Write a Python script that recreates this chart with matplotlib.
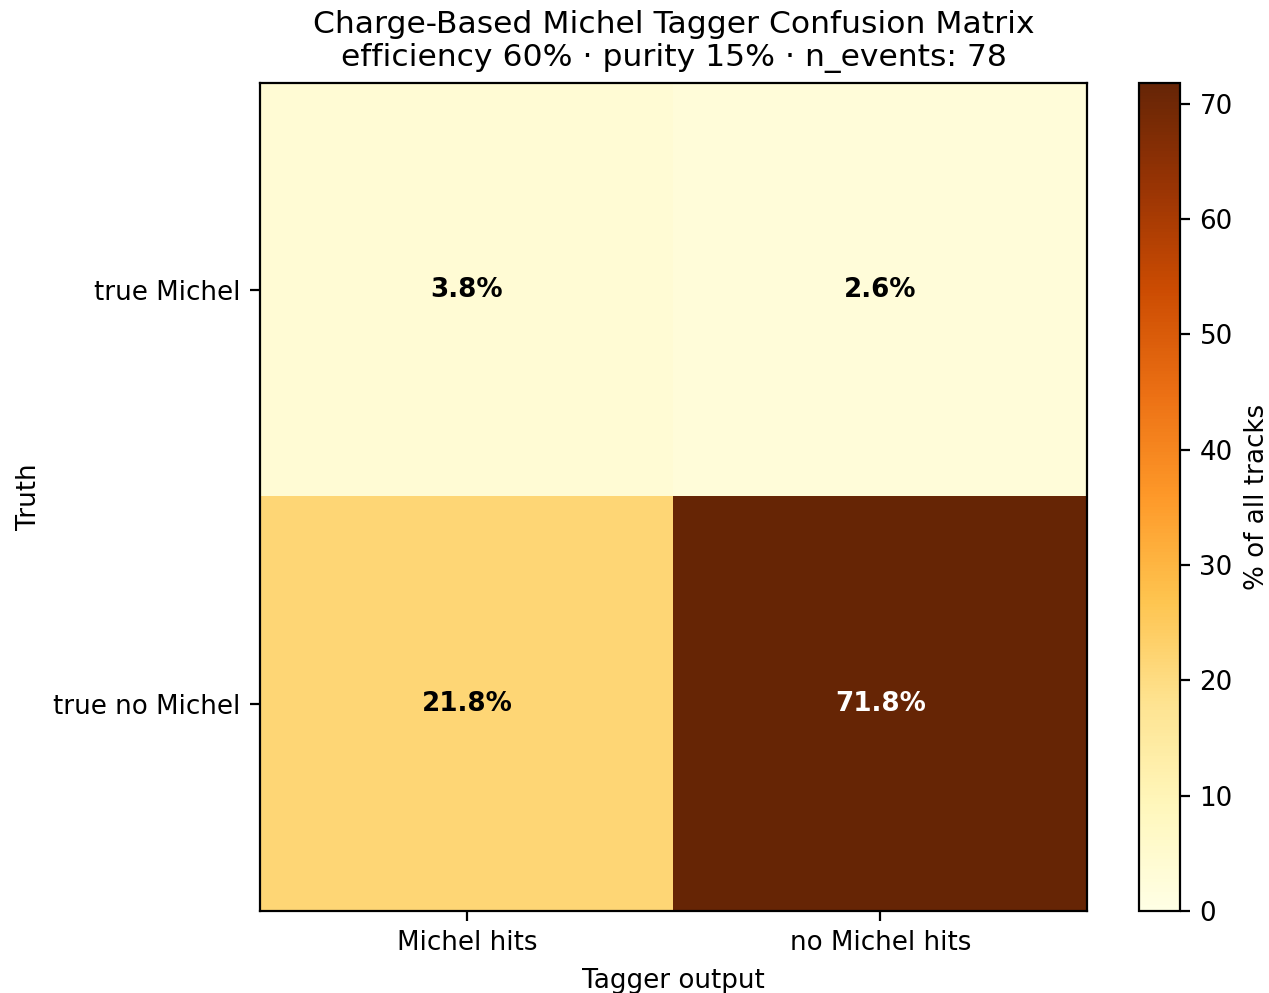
import numpy as np
import matplotlib
matplotlib.use("Agg")
import matplotlib.pyplot as plt

row_labels = ["true Michel", "true no Michel"]
col_labels = ["Michel hits", "no Michel hits"]
pct = np.array([[3.8, 2.6],
                [21.8, 71.8]])
efficiency = 60
purity = 15
n_events = 78

plt.rcParams["font.size"] = 9.4

fig = plt.figure(figsize=(6.345, 4.965), dpi=200)
ax = fig.add_axes([0.205, 0.0826, 0.6516, 0.8338])
cax = fig.add_axes([0.8976, 0.0826, 0.0323, 0.8338])

im = ax.imshow(pct, cmap="YlOrBr", vmin=0, vmax=pct.max(), aspect="auto")
ax.set_xticks(range(len(col_labels)))
ax.set_xticklabels(col_labels)
ax.set_yticks(range(len(row_labels)))
ax.set_yticklabels(row_labels)
ax.set_xlabel("Tagger output")
ax.set_ylabel("Truth")
ax.set_title("Charge-Based Michel Tagger Confusion Matrix\n"
             f"efficiency {efficiency}% \u00b7 purity {purity}% \u00b7 n_events: {n_events}",
             fontsize=11.3)

for i in range(pct.shape[0]):
    for j in range(pct.shape[1]):
        v = pct[i, j]
        ax.text(j, i, f"{v:.1f}%", ha="center", va="center",
                fontweight="bold", fontsize=9.4,
                color="white" if v > 50 else "black")

cb = fig.colorbar(im, cax=cax)
cb.set_label("% of all tracks")

fig.savefig("out.png", dpi=200)
